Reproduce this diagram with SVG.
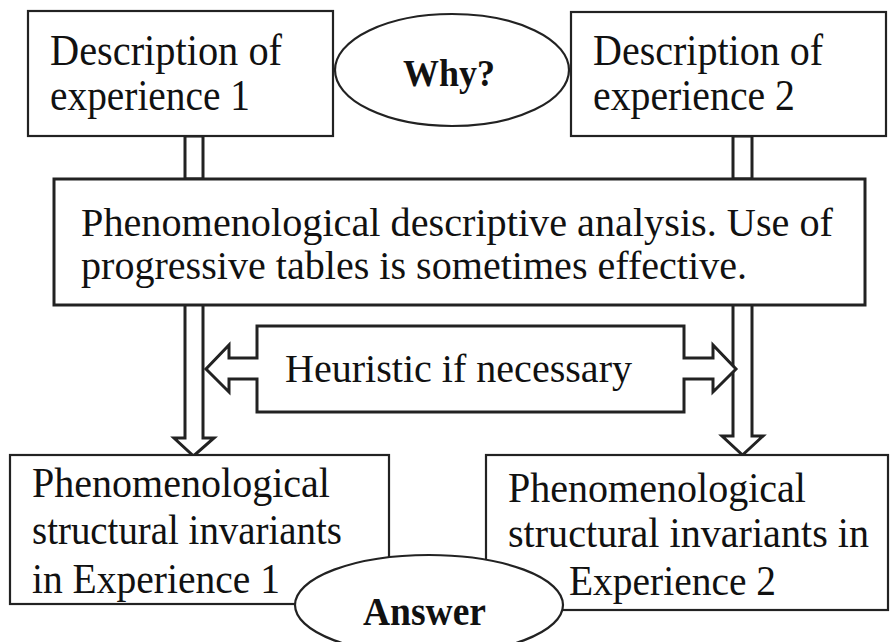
<svg xmlns="http://www.w3.org/2000/svg" width="891" height="642" viewBox="0 0 891 642">
<style>
.box{fill:#fff;stroke:#222;stroke-width:2.2}
.thick{fill:#fff;stroke:#222;stroke-width:3}
.ell{fill:#fff;stroke:#222;stroke-width:2.2}
.t{font-family:"Liberation Serif","Times New Roman",serif;fill:#111}
.big{font-size:44px}
.mid{font-size:39px}
.b{font-family:"Liberation Serif","Times New Roman",serif;font-weight:bold;fill:#111}
</style>
<rect width="891" height="642" fill="#fff"/>
<g id="connectors">
<rect x="185" y="136" width="18" height="43" class="thick"/>
<rect x="733" y="136" width="19" height="43" class="thick"/>
<path d="M185,305 V438 H174 L193.5,456 L214,438 H203 V305" class="thick"/>
<path d="M733,305 V436 H722 L742.5,455 L763,436 H752 V305" class="thick"/>
</g>
<g id="desc1">
<rect x="28" y="11" width="305" height="125" class="box"/>
<text class="t big" x="50" y="65" textLength="232" lengthAdjust="spacingAndGlyphs">Description of</text>
<text class="t big" x="50" y="110" textLength="200" lengthAdjust="spacingAndGlyphs">experience 1</text>
</g>
<g id="why">
<ellipse cx="452" cy="70" rx="117" ry="56" class="ell"/>
<text class="b" x="403" y="86" font-size="37" textLength="92" lengthAdjust="spacingAndGlyphs">Why?</text>
</g>
<g id="desc2">
<rect x="571" y="12" width="315" height="124" class="box"/>
<text class="t big" x="593" y="65" textLength="230" lengthAdjust="spacingAndGlyphs">Description of</text>
<text class="t big" x="593" y="110" textLength="202" lengthAdjust="spacingAndGlyphs">experience 2</text>
</g>
<g id="analysis">
<rect x="54" y="179" width="811" height="126" class="thick"/>
<text class="t mid" x="81" y="236" textLength="752" lengthAdjust="spacingAndGlyphs">Phenomenological descriptive analysis. Use of</text>
<text class="t mid" x="81" y="279" textLength="666" lengthAdjust="spacingAndGlyphs">progressive tables is sometimes effective.</text>
</g>
<g id="heuristic">
<path d="M257,326 H684 V358 H713 V345 L736,369 L713,392 V379 H684 V412 H257 V379 H229 V392 L206,369 L229,345 V358 H257 Z" class="thick"/>
<text class="t" x="285" y="382" font-size="40" textLength="347" lengthAdjust="spacingAndGlyphs">Heuristic if necessary</text>
</g>
<g id="invariants1">
<rect x="10" y="455" width="379" height="149" class="box"/>
<text class="t" font-size="43" x="32" y="497" textLength="298" lengthAdjust="spacingAndGlyphs">Phenomenological</text>
<text class="t" font-size="43" x="32" y="544" textLength="310" lengthAdjust="spacingAndGlyphs">structural invariants</text>
<text class="t" font-size="43" x="32" y="593" textLength="248" lengthAdjust="spacingAndGlyphs">in Experience 1</text>
</g>
<g id="invariants2">
<rect x="486" y="455" width="402" height="155" class="box"/>
<text class="t" font-size="43" x="508" y="502" textLength="298" lengthAdjust="spacingAndGlyphs">Phenomenological</text>
<text class="t" font-size="43" x="508" y="547" textLength="361" lengthAdjust="spacingAndGlyphs">structural invariants in</text>
<text class="t" font-size="43" x="569" y="595" textLength="207" lengthAdjust="spacingAndGlyphs">Experience 2</text>
</g>
<g id="answer">
<ellipse cx="429" cy="605" rx="134" ry="50" class="ell"/>
<text class="b" x="363" y="625" font-size="40" textLength="123" lengthAdjust="spacingAndGlyphs">Answer</text>
</g>
</svg>
